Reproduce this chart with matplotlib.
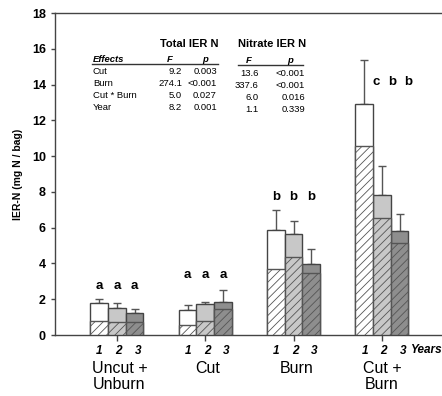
import numpy as np
import matplotlib.pyplot as plt

# data (mg N / bag), groups x years 1..3
groups = ['Uncut +\nUnburn', 'Cut', 'Burn', 'Cut +\nBurn']
years = ['1', '2', '3']
total = [[1.77, 1.52, 1.21],
         [1.40, 1.71, 1.84],
         [5.85, 5.64, 3.97],
         [12.9, 7.81, 5.80]]
nitrate = [[0.80, 0.71, 0.71],
           [0.56, 0.78, 1.45],
           [3.70, 4.36, 3.45],
           [10.55, 6.56, 5.13]]
err_top = [[2.02, 1.77, 1.47],
           [1.66, 1.86, 2.51],
           [7.00, 6.35, 4.80],
           [15.4, 9.43, 6.75]]
letters = [['a', 'a', 'a'], ['a', 'a', 'a'], ['b', 'b', 'b'], ['c', 'b', 'b']]
letter_y = [2.4, 3.0, 7.4, 13.8]

# anova table
effects = ['Cut', 'Burn', 'Cut * Burn', 'Year']
tot_F = ['9.2', '274.1', '5.0', '8.2']
tot_p = ['0.003', '<0.001', '0.027', '0.001']
nit_F = ['13.6', '337.6', '6.0', '1.1']
nit_p = ['<0.001', '<0.001', '0.016', '0.339']

year_colors = ['white', '#c8c8c8', '#8e8e8e']
plt.rcParams['font.family'] = ['Liberation Sans', 'DejaVu Sans']
plt.rcParams['hatch.linewidth'] = 0.6

fig = plt.figure(figsize=(4.42, 3.96), dpi=100)
ax = fig.add_axes([0.1244, 0.154, 0.8756, 0.813])

total = np.array(total)
nitrate = np.array(nitrate)
err_top = np.array(err_top)
centers = np.arange(len(groups)) * 5.0
offs = np.array([-1, 0, 1])

for g in range(len(groups)):
    xs = centers[g] + offs
    for j in range(3):
        ax.bar(xs[j], total[g, j], width=1, color=year_colors[j],
               edgecolor='#444444', linewidth=1, zorder=2)
        ax.bar(xs[j], nitrate[g, j], width=1, color=year_colors[j],
               edgecolor='#555555', hatch='////', linewidth=1, zorder=3)
        ax.errorbar(xs[j], total[g, j], yerr=[[0], [err_top[g, j] - total[g, j]]],
                    fmt='none', ecolor='#555555', elinewidth=1, capsize=3,
                    capthick=1, zorder=1)
    shift = 0.7 if g == 3 else 0.0
    for j in range(3):
        ax.text(xs[j] + shift - 0.1 * j * (g == 3), letter_y[g], letters[g][j],
                ha='center', va='bottom', fontsize=9.5, fontweight='bold')

ax.set_xlim(-3.5, 18.4)
ax.set_ylim(0, 18)
ax.set_yticks(np.arange(0, 19, 2))
ax.tick_params(axis='y', labelsize=9, length=3, width=1, color='#444444')
for t in ax.get_yticklabels():
    t.set_fontweight('bold')

bar_x = np.concatenate([c + offs * 1.08 + 0.1 for c in centers])
ax.set_xticks(bar_x)
ax.set_xticklabels(years * len(groups), fontsize=8.5, fontweight='bold', style='italic')
ax.tick_params(axis='x', length=0, pad=7)
ax.set_xticks(centers, minor=True)
ax.tick_params(axis='x', which='minor', length=4, width=1, color='#444444')
ax.text(centers[-1] + 1.6, -0.82, 'Years', fontsize=8.5, fontweight='bold',
        style='italic', ha='left', va='center')
for g, name in enumerate(groups):
    ax.text(centers[g] + (0.15 if g < 3 else 0), -1.45, name, ha='center', va='top',
            fontsize=11.5, linespacing=1.12)

ax.set_ylabel('IER-N (mg N / bag)', fontsize=7.5, fontweight='bold', labelpad=6)
for s in ['left', 'top', 'bottom']:
    ax.spines[s].set_color('#444444')
    ax.spines[s].set_linewidth(1)
ax.spines['right'].set_visible(False)

# anova inset table, axes coords
fs = 6.8
tr = ax.transAxes
ax.text(0.271, 0.904, 'Total IER N', transform=tr, fontsize=8, fontweight='bold', va='center')
ax.text(0.473, 0.904, 'Nitrate IER N', transform=tr, fontsize=8, fontweight='bold', va='center')
hy = 0.856
ax.text(0.098, hy, 'Effects', transform=tr, fontsize=fs, fontweight='bold', style='italic', va='center')
ax.text(0.297, hy, 'F', transform=tr, fontsize=fs, fontweight='bold', style='italic', ha='center', va='center')
ax.text(0.388, hy, 'p', transform=tr, fontsize=fs, fontweight='bold', style='italic', ha='center', va='center')
ax.text(0.501, hy - 0.004, 'F', transform=tr, fontsize=fs, fontweight='bold', style='italic', ha='center', va='center')
ax.text(0.607, hy - 0.004, 'p', transform=tr, fontsize=fs, fontweight='bold', style='italic', ha='center', va='center')
ax.plot([0.096, 0.421], [0.843, 0.843], transform=tr, color='#333333', lw=1)
ax.plot([0.473, 0.641], [0.840, 0.840], transform=tr, color='#333333', lw=1)
for i, e in enumerate(effects):
    y = 0.817 - i * 0.037
    ax.text(0.098, y, e, transform=tr, fontsize=fs, va='center')
    ax.text(0.328, y, tot_F[i], transform=tr, fontsize=fs, va='center', ha='right')
    ax.text(0.418, y, tot_p[i], transform=tr, fontsize=fs, va='center', ha='right')
    ax.text(0.525, y - 0.005, nit_F[i], transform=tr, fontsize=fs, va='center', ha='right')
    ax.text(0.646, y - 0.005, nit_p[i], transform=tr, fontsize=fs, va='center', ha='right')

fig.savefig('out.png', dpi=100)
